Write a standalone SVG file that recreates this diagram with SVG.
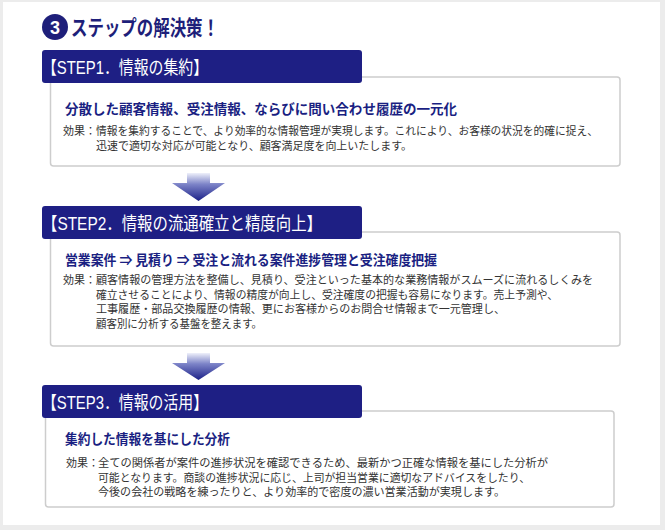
<svg xmlns="http://www.w3.org/2000/svg" width="665" height="530" viewBox="0 0 665 530">
<defs>
<linearGradient id="ag" x1="0" y1="0" x2="0" y2="1">
<stop offset="0" stop-color="#eef0fa"/>
<stop offset="0.4" stop-color="#7d84c8"/>
<stop offset="1" stop-color="#1c2188"/>
</linearGradient>
<style>
.hdr{fill:#1e1f84;}
.hdrt{fill:#fff;font-family:"Liberation Sans","Noto Sans CJK JP",sans-serif;font-size:18px;}
.box{fill:#fff;stroke:#cdcdcd;stroke-width:1.5;}
.hd{fill:#1a1f82;font-family:"Noto Sans CJK JP",sans-serif;font-size:13.5px;font-weight:bold;}
.tx{fill:#333;font-family:"Noto Sans CJK JP",sans-serif;font-size:11px;}
.arr{fill:url(#ag);}
</style>
</defs>
<rect x="0" y="0" width="665" height="530" fill="#ececec"/>
<rect x="3" y="2" width="657" height="523" fill="#fff"/>
<g id="title">
<circle cx="55" cy="27" r="13" fill="#1e1f7a"/>
<text x="55" y="33.5" text-anchor="middle" fill="#fff" font-family="Liberation Sans, sans-serif" font-size="18" font-weight="bold">3</text>
<text x="71" y="35" fill="#1e1f7a" font-family="Noto Sans CJK JP, sans-serif" font-size="21" font-weight="bold" textLength="148" lengthAdjust="spacingAndGlyphs">ステップの解決策！</text>
</g>
<g id="step1">
<rect class="box" x="50.5" y="77" width="569.5" height="89" rx="3"/>
<rect class="hdr" x="42" y="50" width="320" height="33" rx="3"/>
<text class="hdrt" x="42" y="74" textLength="166" lengthAdjust="spacingAndGlyphs">【STEP1．情報の集約】</text>
<text class="hd" x="65" y="114" textLength="392" lengthAdjust="spacingAndGlyphs">分散した顧客情報、受注情報、ならびに問い合わせ履歴の一元化</text>
<text class="tx" x="63" y="135">効果：</text>
<text class="tx" x="96" y="135" textLength="502" lengthAdjust="spacingAndGlyphs">情報を集約することで、より効率的な情報管理が実現します。これにより、お客様の状況を的確に捉え、</text>
<text class="tx" x="96" y="150" textLength="316" lengthAdjust="spacingAndGlyphs">迅速で適切な対応が可能となり、顧客満足度を向上いたします。</text>
</g>
<g id="step2">
<rect class="box" x="50.5" y="232" width="569.5" height="114" rx="3"/>
<rect class="hdr" x="42" y="206" width="320" height="33" rx="3"/>
<text class="hdrt" x="42" y="230" textLength="280" lengthAdjust="spacingAndGlyphs">【STEP2．情報の流通確立と精度向上】</text>
<text class="hd" x="65" y="265" textLength="372" lengthAdjust="spacingAndGlyphs">営業案件 ⇒ 見積り ⇒ 受注と流れる案件進捗管理と受注確度把握</text>
<text class="tx" x="63" y="284">効果：</text>
<text class="tx" x="96" y="284" textLength="497" lengthAdjust="spacingAndGlyphs">顧客情報の管理方法を整備し、見積り、受注といった基本的な業務情報がスムーズに流れるしくみを</text>
<text class="tx" x="96" y="298.5" textLength="462" lengthAdjust="spacingAndGlyphs">確立させることにより、情報の精度が向上し、受注確度の把握も容易になります。売上予測や、</text>
<text class="tx" x="96" y="313" textLength="409" lengthAdjust="spacingAndGlyphs">工事履歴・部品交換履歴の情報、更にお客様からのお問合せ情報まで一元管理し、</text>
<text class="tx" x="96" y="327.5" textLength="166" lengthAdjust="spacingAndGlyphs">顧客別に分析する基盤を整えます。</text>
</g>
<g id="step3">
<rect class="box" x="45.5" y="411" width="568.5" height="96" rx="3"/>
<rect class="hdr" x="42" y="385" width="320" height="33" rx="3"/>
<text class="hdrt" x="42" y="409" textLength="166" lengthAdjust="spacingAndGlyphs">【STEP3．情報の活用】</text>
<text class="hd" x="65" y="444" textLength="165" lengthAdjust="spacingAndGlyphs">集約した情報を基にした分析</text>
<text class="tx" x="66" y="467">効果：</text>
<text class="tx" x="98" y="467" textLength="450" lengthAdjust="spacingAndGlyphs">全ての関係者が案件の進捗状況を確認できるため、最新かつ正確な情報を基にした分析が</text>
<text class="tx" x="98" y="481.5" textLength="432" lengthAdjust="spacingAndGlyphs">可能となります。商談の進捗状況に応じ、上司が担当営業に適切なアドバイスをしたり、</text>
<text class="tx" x="98" y="496" textLength="407" lengthAdjust="spacingAndGlyphs">今後の会社の戦略を練ったりと、より効率的で密度の濃い営業活動が実現します。</text>
</g>
<g id="connectors">
<path class="arr" d="M187 173 H210 V183 H225 L198.5 201 L172 183 H187 Z"/>
<path class="arr" d="M187 353 H210 V363 H225 L198.5 380 L172 363 H187 Z"/>
</g>
</svg>
